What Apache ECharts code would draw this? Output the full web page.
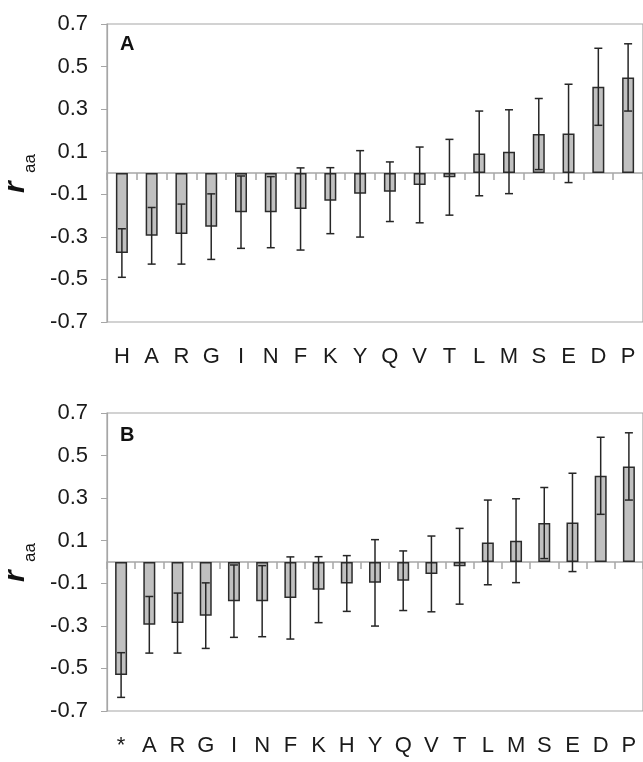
<!DOCTYPE html>
<html>
<head>
<meta charset="utf-8">
<script src="https://cdn.jsdelivr.net/npm/echarts@6/dist/echarts.min.js"></script>
<style>
  html, body { margin: 0; padding: 0; background: #fff; }
  #chart { width: 643px; height: 762px; }
</style>
</head>
<body>
<div id="chart"></div>
<script>
// panel A
var catsA = ['H', 'A', 'R', 'G', 'I', 'N', 'F', 'K', 'Y', 'Q', 'V', 'T', 'L', 'M', 'S', 'E', 'D', 'P'];
var valsA = [-0.376, -0.295, -0.287, -0.252, -0.184, -0.184, -0.169, -0.130, -0.098, -0.088, -0.056, -0.020, 0.092, 0.100, 0.183, 0.186, 0.405, 0.449];
var errA = [0.114, 0.133, 0.141, 0.154, 0.170, 0.167, 0.193, 0.155, 0.203, 0.140, 0.178, 0.178, 0.199, 0.197, 0.167, 0.231, 0.181, 0.158];

// panel B
var catsB = ['*', 'A', 'R', 'G', 'I', 'N', 'F', 'K', 'H', 'Y', 'Q', 'V', 'T', 'L', 'M', 'S', 'E', 'D', 'P'];
var valsB = [-0.531, -0.295, -0.287, -0.252, -0.184, -0.184, -0.169, -0.130, -0.101, -0.098, -0.088, -0.056, -0.020, 0.092, 0.100, 0.183, 0.186, 0.405, 0.449];
var errB = [0.105, 0.133, 0.141, 0.154, 0.170, 0.167, 0.193, 0.155, 0.131, 0.203, 0.140, 0.178, 0.178, 0.199, 0.197, 0.167, 0.231, 0.181, 0.158];

var FONT = 'Liberation Sans, Arial, sans-serif';
var axisGray = '#a6a6a6';

var chart = echarts.init(document.getElementById('chart'));

// error bar data [index, low, high]
function errData(vals, errs) {
  return vals.map(function (v, i) {
    return [i, v - errs[i], v + errs[i]];
  });
}

function renderErr(params, api) {
  var lo = api.coord([api.value(0), api.value(1)]);
  var hi = api.coord([api.value(0), api.value(2)]);
  var cap = 4;
  var style = {stroke: '#262626', lineWidth: 1.5};
  return {
    type: 'group',
    children: [
      {type: 'line', shape: {x1: hi[0], y1: hi[1], x2: lo[0], y2: lo[1]}, style: style},
      {type: 'line', shape: {x1: hi[0] - cap, y1: hi[1], x2: hi[0] + cap, y2: hi[1]}, style: style},
      {type: 'line', shape: {x1: lo[0] - cap, y1: lo[1], x2: lo[0] + cap, y2: lo[1]}, style: style}
    ]
  };
}

function grid(top) {
  return {
    left: 107, top: top, width: 540, height: 298,
    show: true, borderColor: axisGray, borderWidth: 1.2
  };
}

function xZero(cats, gi) {
  return {
    type: 'category', data: cats, gridIndex: gi,
    axisLine: {onZero: true, lineStyle: {color: axisGray, width: 1.5}},
    axisTick: {show: true, length: 7, lineStyle: {color: axisGray, width: 1.5}},
    axisLabel: {show: false}
  };
}

function xLabels(cats, gi) {
  return {
    type: 'category', data: cats, gridIndex: gi, position: 'bottom',
    axisLine: {show: false, onZero: false},
    axisTick: {show: false},
    axisLabel: {show: true, fontFamily: FONT, fontSize: 22, color: '#1a1a1a', margin: 24, interval: 0}
  };
}

function yAx(gi) {
  return {
    type: 'value', gridIndex: gi, min: -0.7, max: 0.7, interval: 0.2,
    axisLine: {show: true, lineStyle: {color: axisGray, width: 1.2}},
    axisTick: {show: true, length: 6, lineStyle: {color: axisGray}},
    splitLine: {show: false},
    axisLabel: {
      fontFamily: FONT, fontSize: 22, color: '#1a1a1a', margin: 19,
      formatter: function (v) { return v.toFixed(1); }
    }
  };
}

var barStyle = {color: '#c0c0c0', borderColor: '#2b2b2b', borderWidth: 1.5};

function rLabel(x, y) {
  return {
    type: 'group', x: x, y: y, rotation: Math.PI / 2,
    children: [
      {type: 'text', x: 0, y: 0, style: {text: 'r', font: 'italic bold 30px ' + FONT, fill: '#111', verticalAlign: 'bottom'}},
      {type: 'text', x: 20, y: 8, style: {text: 'aa', font: '17px ' + FONT, fill: '#111', verticalAlign: 'bottom'}}
    ]
  };
}

chart.setOption({
  animation: false,
  backgroundColor: '#fff',
  grid: [grid(24), grid(413)],
  xAxis: [xZero(catsA, 0), xLabels(catsA, 0), xZero(catsB, 1), xLabels(catsB, 1)],
  yAxis: [yAx(0), yAx(1)],
  series: [
    {type: 'bar', xAxisIndex: 0, yAxisIndex: 0, data: valsA, barWidth: 12, itemStyle: barStyle},
    {type: 'custom', xAxisIndex: 0, yAxisIndex: 0, data: errData(valsA, errA), renderItem: renderErr, z: 5},
    {type: 'bar', xAxisIndex: 2, yAxisIndex: 1, data: valsB, barWidth: 12, itemStyle: barStyle},
    {type: 'custom', xAxisIndex: 2, yAxisIndex: 1, data: errData(valsB, errB), renderItem: renderErr, z: 5}
  ],
  graphic: [
    {type: 'text', x: 120, y: 34, style: {text: 'A', font: 'bold 20px ' + FONT, fill: '#111'}},
    {type: 'text', x: 120, y: 425, style: {text: 'B', font: 'bold 20px ' + FONT, fill: '#111'}},
    rLabel(31, 193),
    rLabel(31, 582)
  ]
});
</script>
</body>
</html>
